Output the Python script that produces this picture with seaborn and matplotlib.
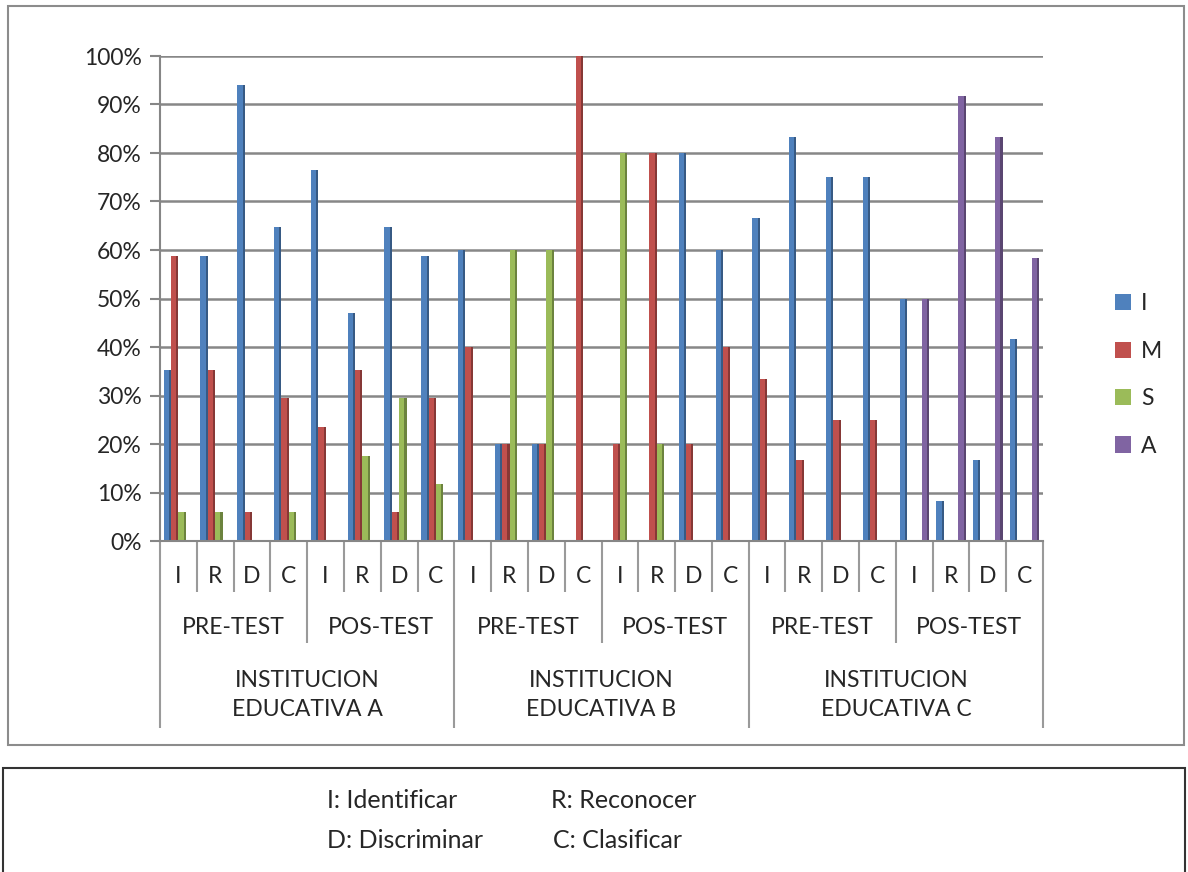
import numpy as np
import pandas as pd
import matplotlib
matplotlib.use("Agg")
import matplotlib.pyplot as plt
import seaborn as sns
from matplotlib.patches import Rectangle
from matplotlib.ticker import FuncFormatter
from matplotlib import colors as mcolors

# ---------------- data ----------------
institutions = ["INSTITUCION\nEDUCATIVA A", "INSTITUCION\nEDUCATIVA B", "INSTITUCION\nEDUCATIVA C"]
tests = ["PRE-TEST", "POS-TEST"]
skills = ["I", "R", "D", "C"]
series_names = ["I", "M", "S", "A"]
series_colors = ["#4F81BD", "#C0504D", "#9BBB59", "#8064A2"]

I_vals = [35.3, 58.8, 94.1, 64.7, 76.5, 47.1, 64.7, 58.8,
          60, 20, 20, 0, 0, 0, 80, 60,
          66.7, 83.3, 75, 75, 50, 8.3, 16.7, 41.7]
M_vals = [58.8, 35.3, 5.9, 29.4, 23.5, 35.3, 5.9, 29.4,
          40, 20, 20, 100, 20, 80, 20, 40,
          33.3, 16.7, 25, 25, 0, 0, 0, 0]
S_vals = [5.9, 5.9, 0, 5.9, 0, 17.6, 29.4, 11.8,
          0, 60, 60, 0, 80, 20, 0, 0,
          0, 0, 0, 0, 0, 0, 0, 0]
A_vals = [0, 0, 0, 0, 0, 0, 0, 0,
          0, 0, 0, 0, 0, 0, 0, 0,
          0, 0, 0, 0, 50, 91.7, 83.3, 58.3]

note_lines = [("I: Identificar", "R: Reconocer"), ("D: Discriminar", "C: Clasificar")]

# ---------------- build table ----------------
cats = []
for inst in institutions:
    for t in tests:
        for s in skills:
            cats.append(f"{inst}|{t}|{s}")
vals = {"I": I_vals, "M": M_vals, "S": S_vals, "A": A_vals}
rows = []
for sn in series_names:
    for c, v in zip(cats, vals[sn]):
        rows.append({"cat": c, "series": sn, "value": v})
df = pd.DataFrame(rows)

sns.set_style("white")
plt.rcParams["font.family"] = ["Lato", "DejaVu Sans"]

FS = 16.5
W, H = 1188, 872
fig = plt.figure(figsize=(W / 100, H / 100), dpi=100)
ax = fig.add_axes([160 / W, 1 - 541 / H, (1043 - 160) / W, (541 - 56) / H])

sns.barplot(data=df, x="cat", y="value", hue="series", order=cats,
            hue_order=series_names, palette=series_colors, width=0.8,
            saturation=1, ax=ax, legend=False, linewidth=0)

# 3D-ish darker side faces
for bar in list(ax.patches):
    h = bar.get_height()
    if h <= 0:
        continue
    x = bar.get_x(); w = bar.get_width()
    fc = mcolors.to_rgb(bar.get_facecolor())
    dark = tuple(c * 0.7 for c in fc)
    ax.add_patch(Rectangle((x + w * 0.72, 0), w * 0.28, h, facecolor=dark,
                           edgecolor="none", zorder=bar.get_zorder() + 0.1))

ax.set_xlim(-0.5, len(cats) - 0.5)
ax.set_ylim(0, 100)
ax.set_yticks(np.arange(0, 101, 10))
ax.yaxis.set_major_formatter(FuncFormatter(lambda v, p: f"{int(round(v))}%"))
ax.tick_params(axis="y", labelsize=FS, length=7, width=1.5, color="#868686",
               left=True, pad=6)
ax.set_xticks([])
ax.set_xlabel("")
ax.set_ylabel("")
ax.yaxis.grid(True, color="#878787", linewidth=1.8)
ax.set_axisbelow(True)
for side in ["top", "right"]:
    ax.spines[side].set_visible(False)
for side in ["left", "bottom"]:
    ax.spines[side].set_color("#868686")
    ax.spines[side].set_linewidth(1.5)

# ---------------- hierarchical category axis ----------------
trans = ax.get_xaxis_transform()
sep_col = "#9a9a9a"
n = len(cats)
for i in range(n + 1):
    xb = i - 0.5
    if i % 8 == 0:
        y_end = -0.386
    elif i % 4 == 0:
        y_end = -0.21
    else:
        y_end = -0.105
    ax.plot([xb, xb], [0, y_end], transform=trans, color=sep_col, lw=1.5,
            clip_on=False, solid_capstyle="butt")

for i, c in enumerate(cats):
    ax.text(i, -0.074, c.split("|")[2], transform=trans, ha="center",
            va="center", fontsize=FS)
for k in range(len(institutions) * len(tests)):
    ax.text(k * 4 + 1.5, -0.179, tests[k % 2], transform=trans, ha="center",
            va="center", fontsize=FS)
for k, inst in enumerate(institutions):
    ax.text(k * 8 + 3.5, -0.318, inst, transform=trans, ha="center",
            va="center", fontsize=FS, linespacing=1.45)

# ---------------- legend ----------------
handles = [Rectangle((0, 0), 1, 1, facecolor=c, edgecolor="none") for c in series_colors]
fig.legend(handles, series_names, loc="center left",
           bbox_to_anchor=(1094 / W, 1 - 375 / H), frameon=False, fontsize=FS,
           handlelength=0.7, handleheight=0.7, handletextpad=0.45,
           labelspacing=1.15)

# ---------------- frames ----------------
fig.add_artist(Rectangle((8 / W, 1 - 745 / H), (1184 - 8) / W, (745 - 6) / H,
                         transform=fig.transFigure, fill=False,
                         edgecolor="#8c8c8c", linewidth=1.5))
fig.add_artist(Rectangle((3 / W, 1 - 880 / H), (1185 - 3) / W, (880 - 768) / H,
                         transform=fig.transFigure, fill=False,
                         edgecolor="#333333", linewidth=1.5))

for row, (a, b) in enumerate(note_lines):
    y = 1 - (800 + row * 40) / H
    fig.text(327 / W, y, a, ha="left", va="center", fontsize=18)
    fig.text((551 if row == 0 else 553) / W, y, b, ha="left", va="center", fontsize=18)

fig.savefig("out.png", dpi=100)
